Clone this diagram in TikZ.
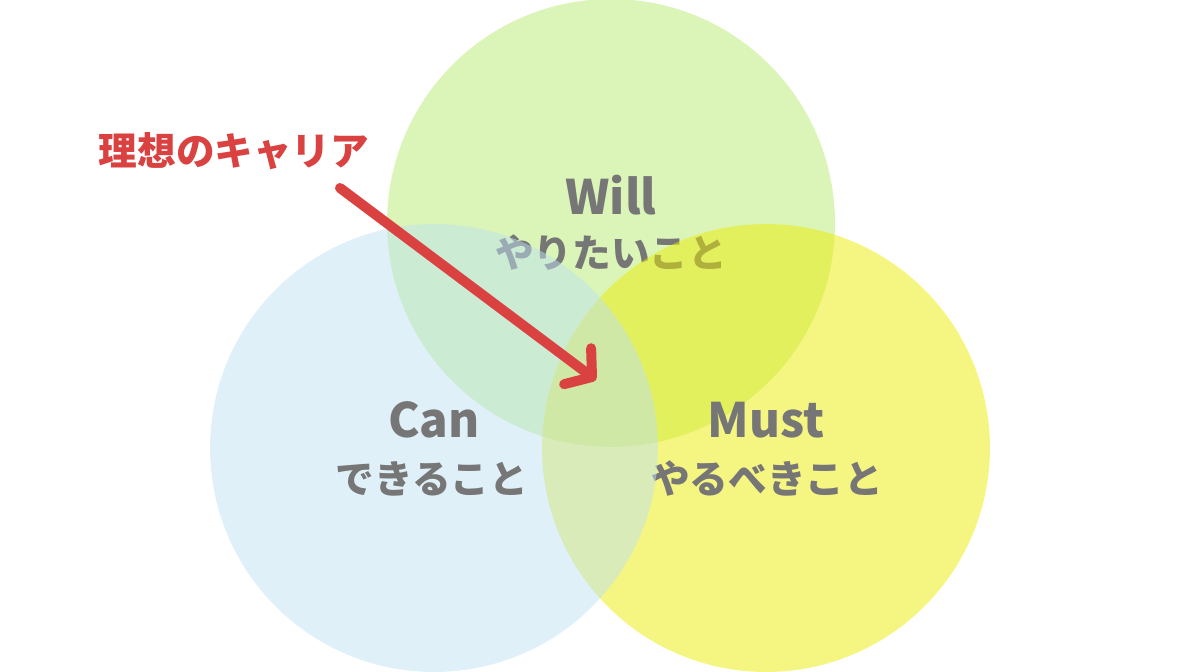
\documentclass[tikz,border=0pt]{standalone}
\usepackage{fontspec}
\newfontfamily\jp{Noto Sans CJK JP}
\usetikzlibrary{arrows.meta}
\definecolor{willgreen}{RGB}{181,235,111}
\definecolor{canblue}{RGB}{191,225,241}
\definecolor{mustyellow}{RGB}{235,235,5}
\definecolor{labelgray}{RGB}{118,118,118}
\definecolor{idealred}{RGB}{218,66,66}

\begin{document}
\begin{tikzpicture}[
		x=0.02cm, y=-0.02cm,
		every node/.style={inner sep=0pt},
		set/.style={circle, minimum size=8.96cm, fill opacity=0.5},
		latin/.style={text=labelgray, font=\jp\bfseries\fontsize{27}{32}\selectfont},
		kana/.style={text=labelgray, font=\jp\bfseries\fontsize{22}{26}\selectfont}
	]
  \useasboundingbox (0,0) rectangle (1200,672);
  % circles, each with its labels
  \node (will) [set, fill=willgreen] at (611,223) {};
  \node (will_en) [latin] at (611,195) {Will};
  \node (will_jp) [kana] at (611,253) {やりたいこと};
  \node (must) [set, fill=mustyellow] at (766,448) {};
  \node (must_en) [latin] at (766,420) {Must};
  \node (must_jp) [kana] at (767,479) {やるべきこと};
  \node (can) [set, fill=canblue] at (434,448) {};
  \node (can_en) [latin] at (434,420) {Can};
  \node (can_jp) [kana] at (432,479) {できること};
  % ideal career
  \node (ideal) [text=idealred, font=\jp\bfseries\fontsize{22}{26}\selectfont] at (234,151) {理想のキャリア};
  \coordinate (a_s) at (340,188);
  \coordinate (a_e) at (596,380);
  \draw [idealred, line width=0.2cm, line cap=round,
    -{Straight Barb[round, length=0.36cm, width=0.9cm]}] (a_s) -- (a_e);
\end{tikzpicture}
\end{document}
